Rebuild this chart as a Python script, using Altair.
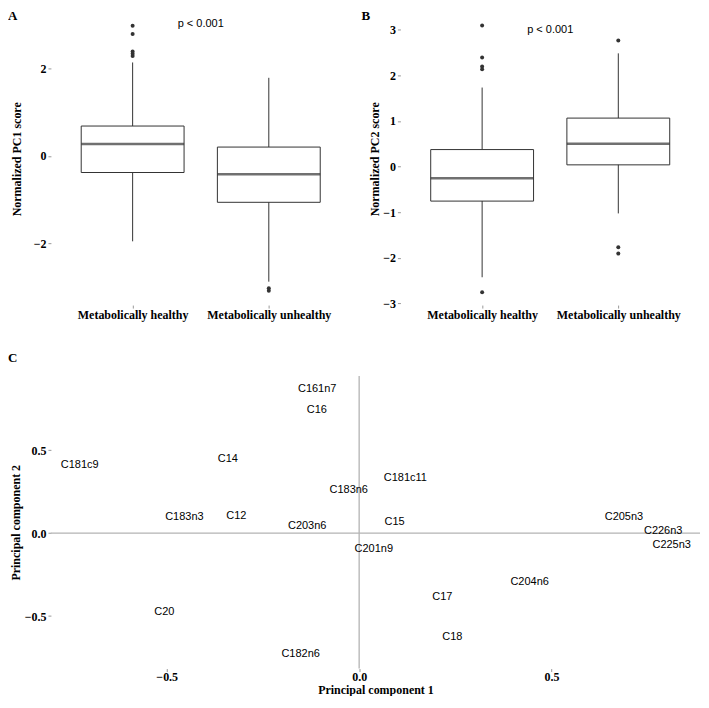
import altair as alt
import pandas as pd

# ---------------- data ----------------
groups = ["Metabolically healthy", "Metabolically unhealthy"]

# Panel A - normalized PC1 score
pc1_lower = [-1.95, -2.87]
pc1_q1 = [-0.38, -1.06]
pc1_median = [0.27, -0.42]
pc1_q3 = [0.68, 0.20]
pc1_upper = [2.13, 1.78]
pc1_out_group = ["Metabolically healthy"] * 5 + ["Metabolically unhealthy"] * 2
pc1_out_value = [2.97, 2.78, 2.38, 2.33, 2.28, -3.02, -3.08]

# Panel B - normalized PC2 score
pc2_lower = [-2.43, -1.03]
pc2_q1 = [-0.76, 0.035]
pc2_median = [-0.26, 0.50]
pc2_q3 = [0.37, 1.06]
pc2_upper = [1.73, 2.48]
pc2_out_group = ["Metabolically healthy"] * 5 + ["Metabolically unhealthy"] * 3
pc2_out_value = [3.09, 2.39, 2.19, 2.13, -2.76, 2.76, -1.77, -1.91]

p_label = ["p < 0.001"]
p_y = [3.0]

# Panel C - loadings
fatty_acids = ["C161n7", "C16", "C181c9", "C14", "C183n6", "C183n3", "C12",
               "C203n6", "C181c11", "C15", "C201n9", "C205n3", "C226n3",
               "C225n3", "C204n6", "C17", "C18", "C20", "C182n6"]
pc1_loading = [-0.109, -0.110, -0.726, -0.341, -0.027, -0.454, -0.319,
               -0.135, 0.120, 0.092, 0.038, 0.688, 0.790,
               0.812, 0.443, 0.216, 0.242, -0.506, -0.152]
pc2_loading = [0.870, 0.741, 0.410, 0.446, 0.258, 0.099, 0.105,
               0.045, 0.331, 0.065, -0.097, 0.099, 0.012,
               -0.073, -0.298, -0.383, -0.625, -0.475, -0.728]
ref_zero = [0.0]

# ---------------- style ----------------
BOX = "#333333"
BOXW = 103
SERIF = "Liberation Serif"
SANS = "Liberation Sans"


def letter_layer(letter, lx, ly):
    return alt.Chart(pd.DataFrame({"t": [letter]})).mark_text(
        font=SERIF, fontWeight="bold", fontSize=13, align="left",
        baseline="top", color="black"
    ).encode(text="t:N", x=alt.value(lx), y=alt.value(ly))


def box_panel(letter, letter_x, ytitle, title_pad, lower, q1, med, q3, upper,
              out_g, out_v, y_domain, y_ticks, width, height):
    stats = pd.DataFrame({"group": groups, "lower": lower, "q1": q1,
                          "median": med, "q3": q3, "upper": upper})
    outs = pd.DataFrame({"group": out_g, "value": out_v})
    ptxt = pd.DataFrame({"label": p_label, "y": p_y})

    xenc = alt.X("group:N", sort=groups,
                 scale=alt.Scale(type="point", padding=0.6, domain=groups),
                 axis=alt.Axis(title=None, labelAngle=0, labelPadding=1))
    ysc = alt.Scale(domain=y_domain, nice=False, zero=False)
    yax = alt.Axis(values=y_ticks, format="d", titlePadding=title_pad)

    def Y(f):
        return alt.Y(f, scale=ysc, axis=yax, title=ytitle)

    whisk = alt.Chart(stats).mark_rule(color=BOX, strokeWidth=1).encode(
        x=xenc, y=Y("lower:Q"), y2="upper:Q")
    box = alt.Chart(stats).mark_bar(size=BOXW, fill="white", stroke=BOX,
                                    strokeWidth=1).encode(
        x=xenc, y=Y("q1:Q"), y2="q3:Q")
    median = alt.Chart(stats).mark_tick(size=BOXW, thickness=2.5,
                                        color=BOX).encode(
        x=xenc, y=Y("median:Q"))
    points = alt.Chart(outs).mark_circle(size=16, color=BOX,
                                         opacity=1).encode(
        x=xenc, y=Y("value:Q"))
    ptext = alt.Chart(ptxt).mark_text(font=SANS, fontSize=11,
                                      color="black").encode(
        x=alt.value(width / 2), y=Y("y:Q"), text="label:N")
    return alt.layer(whisk, box, median, points, ptext,
                     letter_layer(letter, letter_x, -2)).properties(
        width=width, height=height)


panel_a = box_panel("A", -43, "Normalized PC1 score", 10,
                    pc1_lower, pc1_q1, pc1_median, pc1_q3, pc1_upper,
                    pc1_out_group, pc1_out_value,
                    [-3.404, 3.27], [-2, 0, 2], 300, 293)
panel_b = box_panel("B", -39, "Normalized PC2 score", 1.5,
                    pc2_lower, pc2_q1, pc2_median, pc2_q3, pc2_upper,
                    pc2_out_group, pc2_out_value,
                    [-3.04, 3.376], [-3, -2, -1, 0, 1, 2, 3], 300, 293)

# Panel C
cdf = pd.DataFrame({"name": fatty_acids, "pc1": pc1_loading, "pc2": pc2_loading})
zdf = pd.DataFrame({"v": ref_zero})
cx = alt.Scale(domain=[-0.8008, 0.8856], nice=False, zero=False)
cy = alt.Scale(domain=[-0.8166, 0.9467], nice=False, zero=False)
cxax = alt.Axis(values=[-0.5, 0.0, 0.5], format=".1f", labelPadding=0,
                titlePadding=2)
cyax = alt.Axis(values=[-0.5, 0.0, 0.5], format=".1f", titlePadding=1.5)

vline = alt.Chart(zdf).mark_rule(color="#b3b3b3", strokeWidth=1.3).encode(
    x=alt.X("v:Q", scale=cx, axis=cxax, title="Principal component 1"))
hline = alt.Chart(zdf).mark_rule(color="#b3b3b3", strokeWidth=1.3).encode(
    y=alt.Y("v:Q", scale=cy, axis=cyax, title="Principal component 2"))
labels = alt.Chart(cdf).mark_text(font=SANS, fontSize=11, color="black").encode(
    x=alt.X("pc1:Q", scale=cx, axis=cxax, title="Principal component 1"),
    y=alt.Y("pc2:Q", scale=cy, axis=cyax, title="Principal component 2"),
    text="name:N")
panel_c = alt.layer(vline, hline, labels,
                    letter_layer("C", -43, -24)).properties(width=650, height=293)

top = alt.hconcat(panel_a, panel_b, spacing=11)
chart = alt.vconcat(top, panel_c, spacing=32).properties(
    padding={"top": 2, "left": 0, "right": 0, "bottom": 0}
).configure_view(
    stroke=None
).configure_axis(
    domain=False, grid=False, tickColor="#999999", tickSize=3, tickWidth=1,
    labelFont=SERIF, labelFontWeight="bold", labelFontSize=12, labelColor="black",
    labelPadding=2, titleFont=SERIF, titleFontWeight="bold", titleFontSize=12,
    titleColor="black"
)

chart.save("out.html", embed_options={"renderer": "svg", "actions": False})
